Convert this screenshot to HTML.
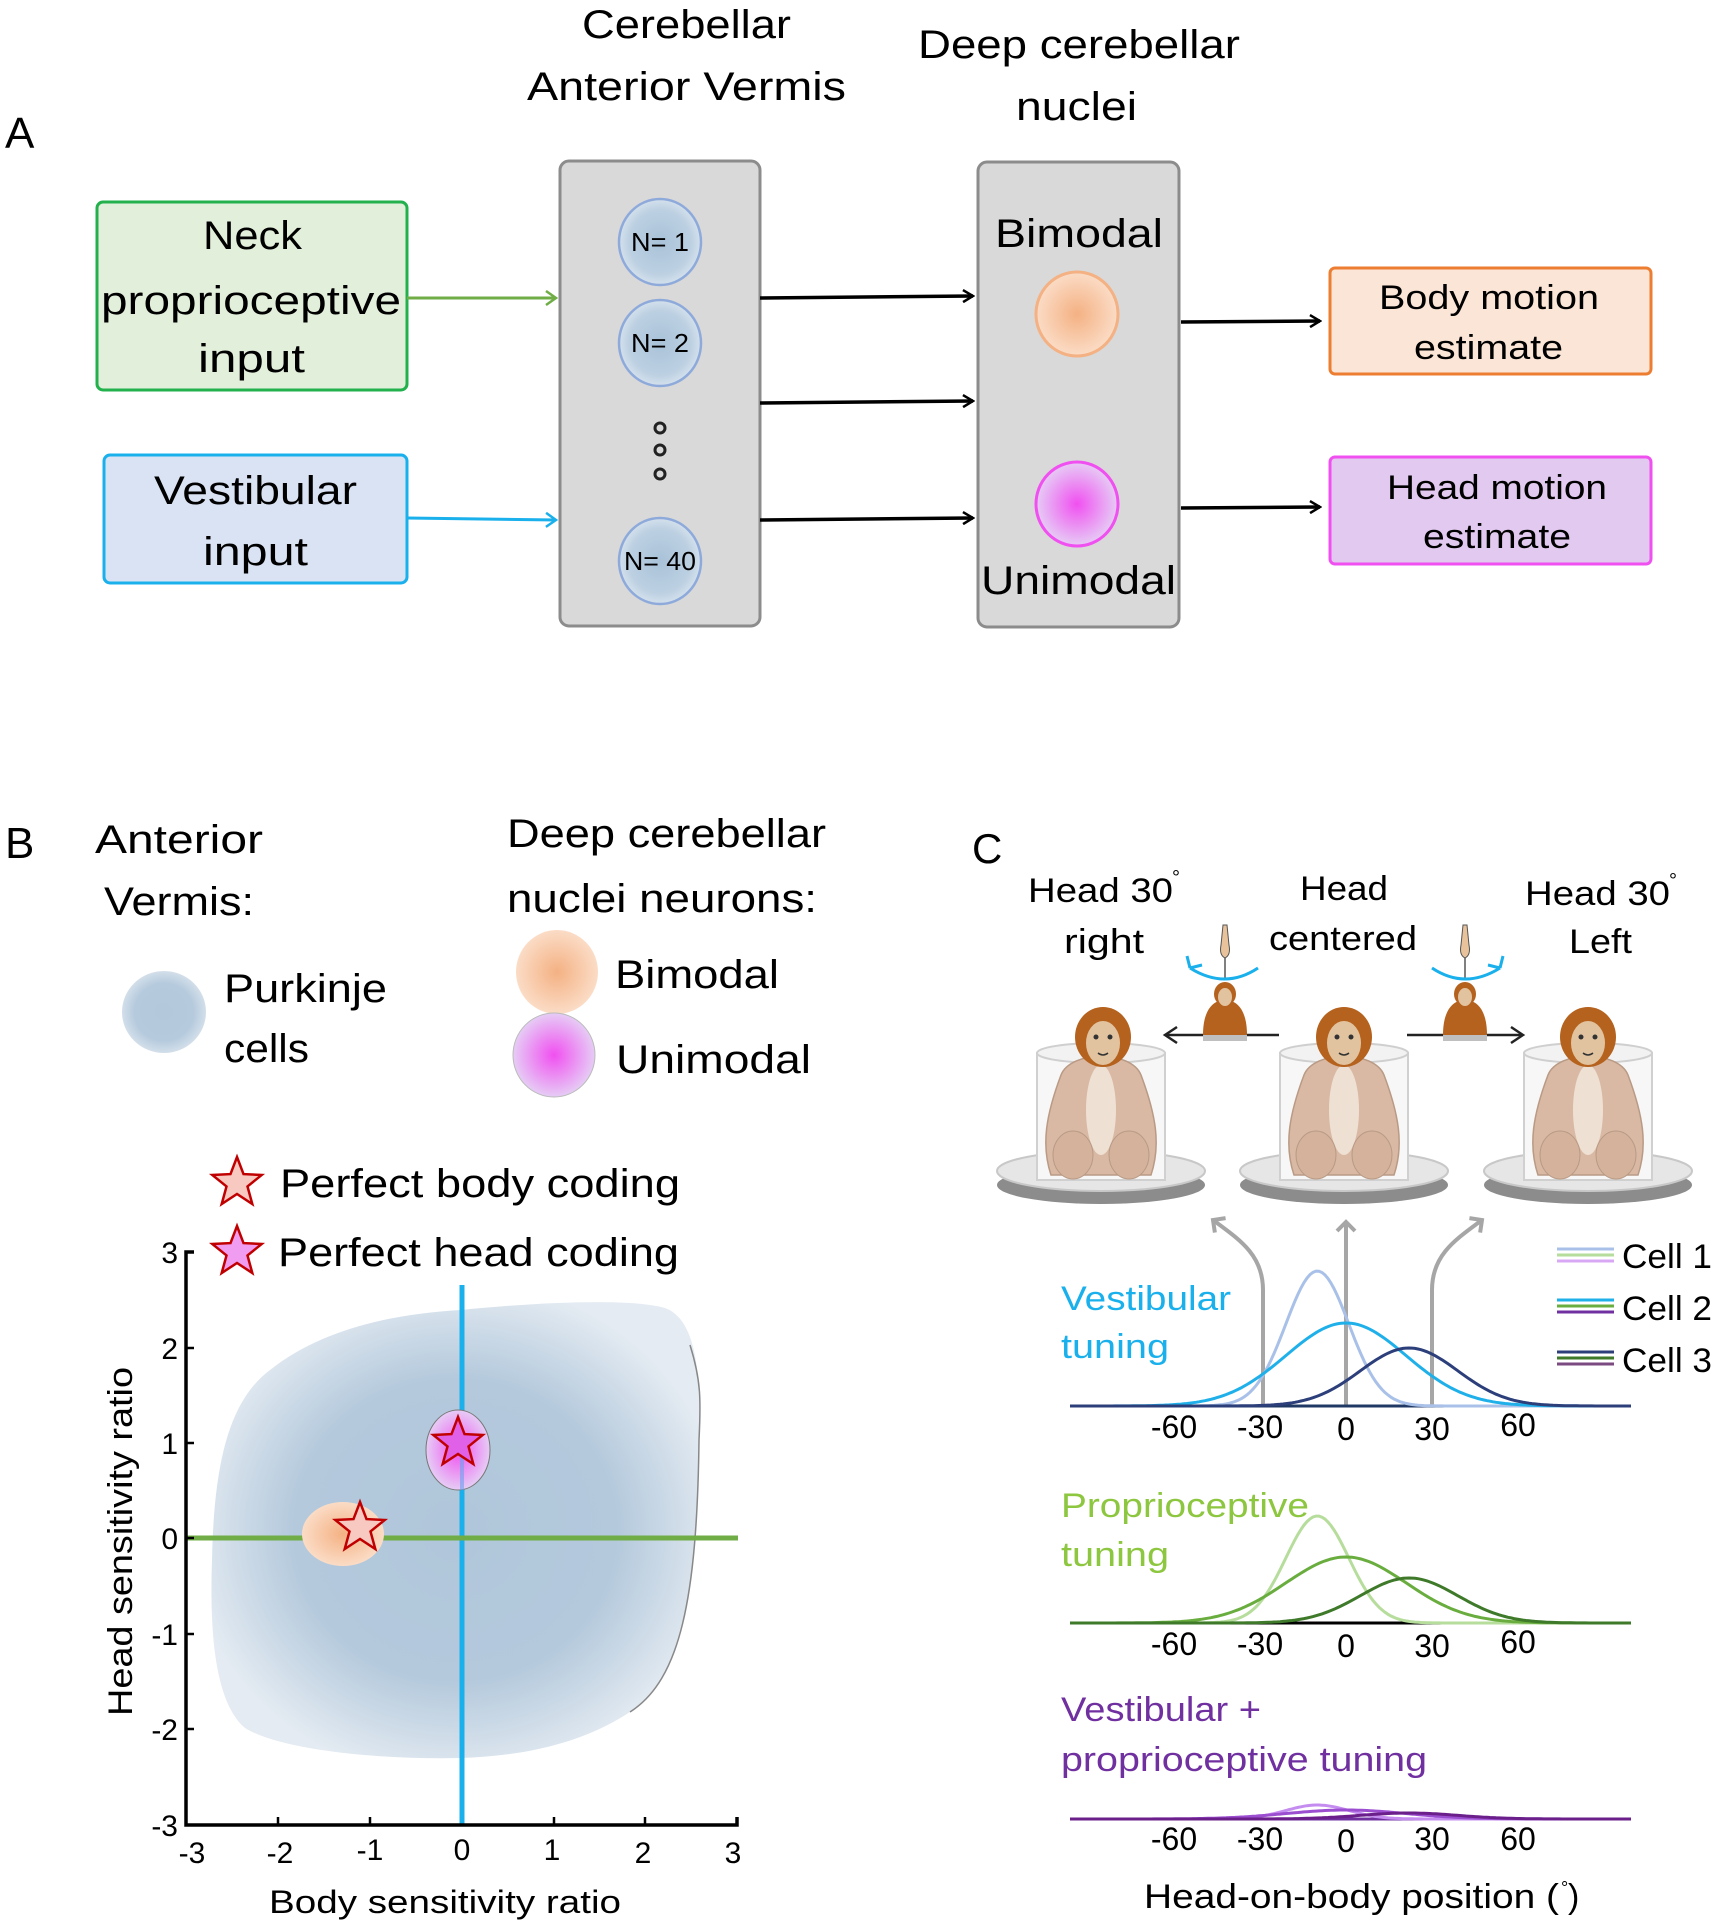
<!DOCTYPE html>
<html><head><meta charset="utf-8"><style>
html,body{margin:0;padding:0;background:#fff;}
svg{display:block;font-family:"Liberation Sans",sans-serif;}
</style></head><body>
<svg id="s" width="1714" height="1920" viewBox="0 0 1714 1920" xmlns="http://www.w3.org/2000/svg">
<defs>
<radialGradient id="gBlue" cx="50%" cy="50%" r="50%"><stop offset="0" stop-color="#a9c2d8"/><stop offset="0.75" stop-color="#bcd0e2"/><stop offset="1" stop-color="#d5e1ec"/></radialGradient>
<radialGradient id="gOr" cx="50%" cy="50%" r="50%"><stop offset="0" stop-color="#f4b183"/><stop offset="1" stop-color="#fbdcc6"/></radialGradient>
<radialGradient id="gMag" cx="50%" cy="50%" r="50%"><stop offset="0" stop-color="#f050f0"/><stop offset="1" stop-color="#e6ccf5"/></radialGradient>
<radialGradient id="gPk" cx="50%" cy="50%" r="50%"><stop offset="0" stop-color="#b3c8db"/><stop offset="0.7" stop-color="#b5cadd"/><stop offset="1" stop-color="#d3dfea"/></radialGradient>
<radialGradient id="gBlob" cx="50%" cy="50%" r="55%"><stop offset="0" stop-color="#b0c6da"/><stop offset="0.6" stop-color="#b4c9dc"/><stop offset="1" stop-color="#e4ebf2"/></radialGradient>
<marker id="ab" markerWidth="14" markerHeight="14" refX="12" refY="7" orient="auto" markerUnits="userSpaceOnUse"><path d="M2,1 L12,7 L2,13" fill="none" stroke="#000" stroke-width="2.5"/></marker>
<marker id="ag" markerWidth="16" markerHeight="16" refX="13" refY="8" orient="auto" markerUnits="userSpaceOnUse"><path d="M3,1 L13,8 L3,15" fill="none" stroke="#70ad47" stroke-width="2.5"/></marker>
<marker id="ac" markerWidth="16" markerHeight="16" refX="13" refY="8" orient="auto" markerUnits="userSpaceOnUse"><path d="M3,1 L13,8 L3,15" fill="none" stroke="#1ab0ec" stroke-width="2.5"/></marker>
<marker id="agr" markerWidth="22" markerHeight="22" refX="11" refY="11" orient="auto" markerUnits="userSpaceOnUse"><path d="M2,2 L11,11 L2,20" fill="none" stroke="#a6a6a6" stroke-width="4"/></marker>
<marker id="abk" markerWidth="20" markerHeight="20" refX="16" refY="10" orient="auto" markerUnits="userSpaceOnUse"><path d="M4,2 L16,10 L4,18" fill="none" stroke="#222" stroke-width="2.5"/></marker>
<polygon id="star" points="0,-26 6.5,-8.9 24.7,-8 10.5,3.4 15.3,21 0,11 -15.3,21 -10.5,3.4 -24.7,-8 -6.5,-8.9"/>
<g id="monkey">
 <ellipse cx="0" cy="150" rx="104" ry="19" fill="#8c8c8c"/>
 <ellipse cx="0" cy="136" rx="104" ry="20" fill="#e6e6e6" stroke="#c8c8c8" stroke-width="2"/>
 <rect x="-64" y="18" width="128" height="127" fill="#f7f7f7" stroke="#d0d0d0" stroke-width="2"/>
 <ellipse cx="0" cy="18" rx="64" ry="10" fill="#f2f2f2" stroke="#cfcfcf" stroke-width="2"/>
 <path d="M-40,40 C-55,80 -60,110 -50,140 L50,140 C60,110 55,80 40,40 C30,15 -30,15 -40,40 Z" fill="#d9b9a3" stroke="#b99a85" stroke-width="1.5"/>
 <ellipse cx="0" cy="75" rx="15" ry="45" fill="#efe0d4"/>
 <ellipse cx="-28" cy="120" rx="20" ry="24" fill="#d4b29b" stroke="#b99a85"/>
 <ellipse cx="28" cy="120" rx="20" ry="24" fill="#d4b29b" stroke="#b99a85"/>
</g>
<g id="head">
 <ellipse cx="0" cy="0" rx="28" ry="30" fill="#b4621e"/>
 <ellipse cx="0" cy="6" rx="17" ry="22" fill="#e2c3a0"/>
 <circle cx="-7" cy="0" r="2.5" fill="#333"/><circle cx="7" cy="0" r="2.5" fill="#333"/>
 <path d="M-5,16 Q0,20 5,16" fill="none" stroke="#333" stroke-width="1.5"/>
</g>
<g id="small">
 <path d="M-22,35 C-22,10 -12,0 0,0 C12,0 22,10 22,35 Z" fill="#b4621e"/>
 <ellipse cx="0" cy="-6" rx="11" ry="12" fill="#b4621e"/>
 <ellipse cx="0" cy="-3" rx="7" ry="9" fill="#e2c3a0"/>
 <rect x="-22" y="35" width="44" height="6" fill="#bfbfbf"/>
 <line x1="0" y1="-20" x2="0" y2="-55" stroke="#555" stroke-width="1.5"/>
 <path d="M-4,-55 L-2,-75 L2,-75 L4,-55 Q6,-45 0,-42 Q-6,-45 -4,-55 Z" fill="#e8c29a" stroke="#555" stroke-width="1"/>
</g>
</defs>

<!-- ===== Panel A ===== -->
<g fill="#000">
<text x="5" y="148" font-size="44">A</text>
<text x="582" y="38" font-size="40" textLength="209" lengthAdjust="spacingAndGlyphs">Cerebellar</text>
<text x="527" y="100" font-size="40" textLength="319" lengthAdjust="spacingAndGlyphs">Anterior Vermis</text>
<text x="918" y="58" font-size="40" textLength="322" lengthAdjust="spacingAndGlyphs">Deep cerebellar</text>
<text x="1016" y="120" font-size="40" textLength="121" lengthAdjust="spacingAndGlyphs">nuclei</text>
</g>
<rect x="97" y="202" width="310" height="188" rx="6" fill="#e2efda" stroke="#22b14c" stroke-width="3"/>
<text x="203" y="249" font-size="40" textLength="99" lengthAdjust="spacingAndGlyphs">Neck</text>
<text x="101" y="314" font-size="40" textLength="300" lengthAdjust="spacingAndGlyphs">proprioceptive</text>
<text x="198" y="372" font-size="40" textLength="107" lengthAdjust="spacingAndGlyphs">input</text>
<rect x="104" y="455" width="303" height="128" rx="6" fill="#dae3f3" stroke="#1ab0ec" stroke-width="3"/>
<text x="154" y="504" font-size="40" textLength="203" lengthAdjust="spacingAndGlyphs">Vestibular</text>
<text x="203" y="565" font-size="40" textLength="105" lengthAdjust="spacingAndGlyphs">input</text>

<rect x="560" y="161" width="200" height="465" rx="9" fill="#d9d9d9" stroke="#8c8c8c" stroke-width="3"/>
<g stroke="#8eaadb" stroke-width="2.5" fill="url(#gBlue)">
<ellipse cx="660" cy="242" rx="41" ry="43"/>
<ellipse cx="660" cy="343" rx="41" ry="43"/>
<ellipse cx="660" cy="561" rx="41" ry="43"/>
</g>
<g font-size="26" text-anchor="middle">
<text x="660" y="251" textLength="58" lengthAdjust="spacingAndGlyphs">N= 1</text>
<text x="660" y="352" textLength="58" lengthAdjust="spacingAndGlyphs">N= 2</text>
<text x="660" y="570" textLength="72" lengthAdjust="spacingAndGlyphs">N= 40</text>
</g>
<g fill="none" stroke="#222" stroke-width="3"><circle cx="660" cy="428" r="5"/><circle cx="660" cy="450" r="5"/><circle cx="660" cy="474" r="5"/></g>

<rect x="978" y="162" width="201" height="465" rx="9" fill="#d9d9d9" stroke="#8c8c8c" stroke-width="3"/>
<text x="995" y="247" font-size="40" textLength="168" lengthAdjust="spacingAndGlyphs">Bimodal</text>
<ellipse cx="1077" cy="314" rx="41" ry="42" fill="url(#gOr)" stroke="#f4b183" stroke-width="3"/>
<ellipse cx="1077" cy="504" rx="41" ry="42" fill="url(#gMag)" stroke="#f050f0" stroke-width="3"/>
<text x="981" y="594" font-size="40" textLength="195" lengthAdjust="spacingAndGlyphs">Unimodal</text>

<line x1="407" y1="298" x2="556" y2="298" stroke="#70ad47" stroke-width="3" marker-end="url(#ag)"/>
<line x1="407" y1="518" x2="556" y2="520" stroke="#1ab0ec" stroke-width="3" marker-end="url(#ac)"/>
<g stroke="#000" stroke-width="3.5">
<line x1="760" y1="298" x2="973" y2="296" marker-end="url(#ab)"/>
<line x1="760" y1="403" x2="973" y2="401" marker-end="url(#ab)"/>
<line x1="760" y1="520" x2="973" y2="518" marker-end="url(#ab)"/>
<line x1="1181" y1="322" x2="1320" y2="321" marker-end="url(#ab)"/>
<line x1="1181" y1="508" x2="1320" y2="507" marker-end="url(#ab)"/>
</g>
<rect x="1330" y="268" width="321" height="106" rx="5" fill="#fbe5d6" stroke="#ed7d31" stroke-width="3"/>
<text x="1379" y="309" font-size="34" textLength="220" lengthAdjust="spacingAndGlyphs">Body motion</text>
<text x="1414" y="359" font-size="34" textLength="149" lengthAdjust="spacingAndGlyphs">estimate</text>
<rect x="1330" y="457" width="321" height="107" rx="5" fill="#e2c9ef" stroke="#f050f0" stroke-width="3"/>
<text x="1387" y="499" font-size="34" textLength="220" lengthAdjust="spacingAndGlyphs">Head motion</text>
<text x="1423" y="548" font-size="34" textLength="148" lengthAdjust="spacingAndGlyphs">estimate</text>

<!-- ===== Panel B ===== -->
<text x="5" y="858" font-size="44">B</text>
<text x="95" y="853" font-size="40" textLength="168" lengthAdjust="spacingAndGlyphs">Anterior</text>
<text x="104" y="915" font-size="40" textLength="150" lengthAdjust="spacingAndGlyphs">Vermis:</text>
<ellipse cx="164" cy="1012" rx="42" ry="41" fill="url(#gPk)"/>
<text x="224" y="1002" font-size="40" textLength="163" lengthAdjust="spacingAndGlyphs">Purkinje</text>
<text x="224" y="1062" font-size="40" textLength="85" lengthAdjust="spacingAndGlyphs">cells</text>
<text x="507" y="847" font-size="40" textLength="319" lengthAdjust="spacingAndGlyphs">Deep cerebellar</text>
<text x="507" y="912" font-size="40" textLength="310" lengthAdjust="spacingAndGlyphs">nuclei neurons:</text>
<ellipse cx="557" cy="972" rx="41" ry="42" fill="url(#gOr)"/>
<ellipse cx="554" cy="1055" rx="41" ry="42" fill="url(#gMag)" stroke="#bbb" stroke-width="1"/>
<text x="615" y="988" font-size="40" textLength="164" lengthAdjust="spacingAndGlyphs">Bimodal</text>
<text x="616" y="1073" font-size="40" textLength="195" lengthAdjust="spacingAndGlyphs">Unimodal</text>

<use href="#star" x="237" y="1183" fill="#f8c9c0" stroke="#c00000" stroke-width="2.5"/>
<text x="280" y="1197" font-size="40" textLength="400" lengthAdjust="spacingAndGlyphs">Perfect body coding</text>
<use href="#star" x="237" y="1252" fill="#f09cf0" stroke="#c00000" stroke-width="2.5"/>
<text x="278" y="1266" font-size="40" textLength="401" lengthAdjust="spacingAndGlyphs">Perfect head coding</text>

<path d="M461,1310 C540,1302 630,1298 665,1308 C698,1320 701,1380 699,1440 C697,1600 680,1680 630,1712 C580,1745 520,1756 461,1758 C380,1760 280,1750 245,1728 C212,1700 210,1620 212,1560 C214,1460 230,1400 270,1370 C320,1330 390,1314 461,1310 Z" fill="url(#gBlob)"/>
<path d="M690,1345 C701,1380 701,1400 699,1440 C697,1600 680,1680 630,1712" fill="none" stroke="#888" stroke-width="1.5"/>
<line x1="462" y1="1285" x2="462" y2="1825" stroke="#1ab0ec" stroke-width="5"/>
<line x1="186" y1="1538" x2="738" y2="1538" stroke="#70ad47" stroke-width="5"/>
<ellipse cx="343" cy="1534" rx="41" ry="32" fill="url(#gOr)"/>
<use href="#star" x="360" y="1528" fill="#f8c9c0" stroke="#c00000" stroke-width="2.5"/>
<ellipse cx="458" cy="1450" rx="32" ry="40" fill="url(#gMag)" stroke="#777" stroke-width="1"/>
<line x1="462" y1="1440" x2="462" y2="1490" stroke="#6aa0f0" stroke-width="4" opacity="0.6"/>
<use href="#star" x="458" y="1443" fill="#e060e8" stroke="#c00000" stroke-width="2.5"/>

<g stroke="#000" stroke-width="3.5" fill="none">
<path d="M194,1252 L186,1252 L186,1825 L737,1825 L737,1817"/>
</g>
<g stroke="#000" stroke-width="2.5">
<line x1="186" y1="1348" x2="194" y2="1348"/><line x1="186" y1="1443" x2="194" y2="1443"/><line x1="186" y1="1538" x2="194" y2="1538"/><line x1="186" y1="1634" x2="194" y2="1634"/><line x1="186" y1="1729" x2="194" y2="1729"/>
<line x1="278" y1="1825" x2="278" y2="1817"/><line x1="370" y1="1825" x2="370" y2="1817"/><line x1="554" y1="1825" x2="554" y2="1817"/><line x1="645" y1="1825" x2="645" y2="1817"/>
</g>
<g font-size="30" text-anchor="end">
<text x="178" y="1263">3</text><text x="178" y="1359">2</text><text x="178" y="1454">1</text><text x="178" y="1549">0</text><text x="178" y="1645">-1</text><text x="178" y="1740">-2</text><text x="178" y="1836">-3</text>
</g>
<g font-size="30" text-anchor="middle">
<text x="192" y="1863">-3</text><text x="280" y="1863">-2</text><text x="370" y="1860">-1</text><text x="462" y="1860">0</text><text x="552" y="1860">1</text><text x="643" y="1863">2</text><text x="733" y="1863">3</text>
</g>
<text x="269" y="1913" font-size="32" textLength="352" lengthAdjust="spacingAndGlyphs">Body sensitivity ratio</text>
<text transform="translate(132,1716) rotate(-90)" font-size="34" textLength="349" lengthAdjust="spacingAndGlyphs">Head sensitivity ratio</text>

<!-- ===== Panel C ===== -->
<text x="972" y="863" font-size="42">C</text>
<g font-size="34">
<text x="1028" y="902" textLength="145" lengthAdjust="spacingAndGlyphs">Head 30</text><text x="1172" y="884" font-size="20">°</text>
<text x="1064" y="953" textLength="80" lengthAdjust="spacingAndGlyphs">right</text>
<text x="1300" y="900" textLength="88" lengthAdjust="spacingAndGlyphs">Head</text>
<text x="1269" y="950" textLength="148" lengthAdjust="spacingAndGlyphs">centered</text>
<text x="1525" y="905" textLength="145" lengthAdjust="spacingAndGlyphs">Head 30</text><text x="1669" y="887" font-size="20">°</text>
<text x="1569" y="953" textLength="63" lengthAdjust="spacingAndGlyphs">Left</text>
</g>
<use href="#monkey" x="1101" y="1035"/>
<use href="#monkey" x="1344" y="1035"/>
<use href="#monkey" x="1588" y="1035"/>
<use href="#head" x="1103" y="1037"/>
<use href="#head" x="1344" y="1037"/>
<use href="#head" x="1588" y="1037"/>
<line x1="1279" y1="1035" x2="1165" y2="1035" stroke="#222" stroke-width="2.5" marker-end="url(#abk)"/>
<line x1="1407" y1="1035" x2="1523" y2="1035" stroke="#222" stroke-width="2.5" marker-end="url(#abk)"/>
<use href="#small" x="1225" y="1000"/>
<use href="#small" x="1465" y="1000"/>
<g fill="none" stroke="#1ab0ec" stroke-width="3">
<path d="M1190,968 Q1225,990 1258,968"/><path d="M1190,968 l-3,-12 M1190,968 l12,-3"/>
<path d="M1432,968 Q1465,990 1500,968"/><path d="M1500,968 l3,-12 M1500,968 l-12,-3"/>
</g>

<!-- gray arrows -->
<g fill="none" stroke="#a6a6a6" stroke-width="4">
<path d="M1263,1406 L1263,1290 C1263,1255 1240,1240 1213,1220" marker-end="url(#agr)"/>
<path d="M1346,1406 L1346,1222" marker-end="url(#agr)"/>
<path d="M1432,1406 L1432,1290 C1432,1255 1455,1240 1482,1220" marker-end="url(#agr)"/>
</g>
<g id="curves"></g>
<line x1="1070" y1="1406" x2="1631" y2="1406" stroke="#1f3864" stroke-width="3"/>
<line x1="1070" y1="1623" x2="1631" y2="1623" stroke="#000" stroke-width="3"/>
<line x1="1070" y1="1819" x2="1631" y2="1819" stroke="#7030a0" stroke-width="3"/>
<g id="curves2"></g>

<g font-size="32" text-anchor="middle">
<text x="1174" y="1438">-60</text><text x="1260" y="1438">-30</text><text x="1346" y="1440">0</text><text x="1432" y="1440">30</text><text x="1518" y="1436">60</text>
<text x="1174" y="1655">-60</text><text x="1260" y="1655">-30</text><text x="1346" y="1657">0</text><text x="1432" y="1657">30</text><text x="1518" y="1653">60</text>
<text x="1174" y="1850">-60</text><text x="1260" y="1850">-30</text><text x="1346" y="1852">0</text><text x="1432" y="1850">30</text><text x="1518" y="1850">60</text>
</g>
<g font-size="34">
<text x="1061" y="1310" fill="#1ab0ec" textLength="170" lengthAdjust="spacingAndGlyphs">Vestibular</text>
<text x="1061" y="1358" fill="#1ab0ec" textLength="108" lengthAdjust="spacingAndGlyphs">tuning</text>
<text x="1061" y="1517" fill="#8dc63f" textLength="248" lengthAdjust="spacingAndGlyphs">Proprioceptive</text>
<text x="1061" y="1566" fill="#8dc63f" textLength="108" lengthAdjust="spacingAndGlyphs">tuning</text>
<text x="1061" y="1721" fill="#7030a0" textLength="200" lengthAdjust="spacingAndGlyphs">Vestibular +</text>
<text x="1061" y="1771" fill="#7030a0" textLength="366" lengthAdjust="spacingAndGlyphs">proprioceptive tuning</text>
<text x="1144" y="1908" fill="#000" textLength="415" lengthAdjust="spacingAndGlyphs">Head-on-body position (</text><text x="1561" y="1894" font-size="18">°</text><text x="1568" y="1908">)</text>
</g>
<!-- legend -->
<g stroke-width="3">
<line x1="1557" y1="1249" x2="1614" y2="1249" stroke="#a9c1e8"/><line x1="1557" y1="1255" x2="1614" y2="1255" stroke="#b6dd9c"/><line x1="1557" y1="1261" x2="1614" y2="1261" stroke="#d8a8f5"/>
<line x1="1557" y1="1300" x2="1614" y2="1300" stroke="#1fb0ea"/><line x1="1557" y1="1306" x2="1614" y2="1306" stroke="#6aad3f"/><line x1="1557" y1="1312" x2="1614" y2="1312" stroke="#7030a0"/>
<line x1="1557" y1="1352" x2="1614" y2="1352" stroke="#2c3f7a"/><line x1="1557" y1="1358" x2="1614" y2="1358" stroke="#3e7a2a"/><line x1="1557" y1="1364" x2="1614" y2="1364" stroke="#7a4a80"/>
</g>
<g font-size="34">
<text x="1622" y="1268" textLength="90" lengthAdjust="spacingAndGlyphs">Cell 1</text>
<text x="1622" y="1320" textLength="90" lengthAdjust="spacingAndGlyphs">Cell 2</text>
<text x="1622" y="1372" textLength="90" lengthAdjust="spacingAndGlyphs">Cell 3</text>
</g>
</svg>
<script>
(function(){
 var ns="http://www.w3.org/2000/svg";
 function path(base,h,mu,sg,col,w,grp){
  var d="";
  for(var px=1070;px<=1631;px+=3){
   var deg=(px-1346)/2.867;
   var y=base-h*Math.exp(-(deg-mu)*(deg-mu)/(2*sg*sg));
   d+=(d?"L":"M")+px+","+y.toFixed(1);
  }
  var p=document.createElementNS(ns,"path");
  p.setAttribute("d",d);p.setAttribute("fill","none");p.setAttribute("stroke",col);p.setAttribute("stroke-width",w);
  document.getElementById(grp).appendChild(p);
 }
 var g="curves2";
 path(1406,135,-10,11,"#a9c1e8",3,g);
 path(1406,83,0,21,"#1fb0ea",3,g);
 path(1406,58,22,17,"#2c3f7a",3,g);
 path(1623,107,-10,11,"#b6dd9c",3,g);
 path(1623,66,0,21,"#6aad3f",3,g);
 path(1623,45,22,17,"#3e7a2a",3,g);
 path(1819,14,-10,11,"#c58cf0",3,g);
 path(1819,9,0,21,"#9b4fd0",3,g);
 path(1819,6,22,17,"#6a1f8a",3,g);
})();
</script>
</body></html>
